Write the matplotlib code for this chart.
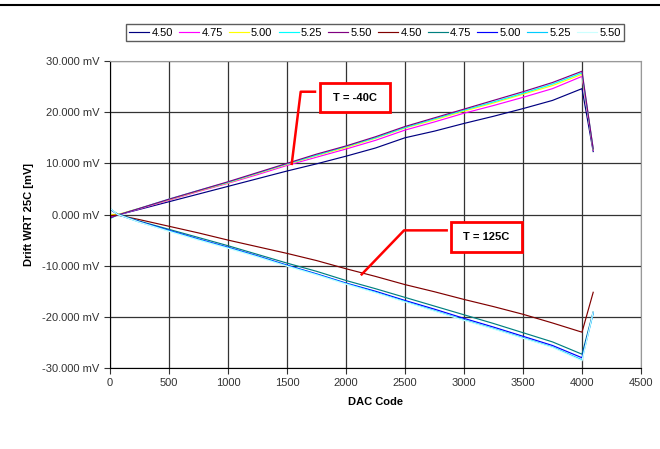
import matplotlib
matplotlib.use("Agg")
import matplotlib.pyplot as plt
from matplotlib.lines import Line2D
from matplotlib.patches import Rectangle

plt.rcParams['font.family'] = ['Liberation Sans', 'DejaVu Sans']

# data
dac_code = [0, 64, 250, 500, 750, 1000, 1250, 1500, 1750, 2000, 2250,
            2500, 2750, 3000, 3250, 3500, 3750, 4000, 4095]

# T = -40C
cold_450 = [-0.5, -0.1, 1.0, 2.5, 4.0, 5.5, 7.0, 8.5, 9.9, 11.4, 13.0,
            15.0, 16.3, 17.8, 19.2, 20.7, 22.3, 24.6, 12.3]
cold_475 = [-0.6, -0.1, 1.1, 2.8, 4.5, 6.1, 7.8, 9.6, 11.2, 12.8, 14.5,
            16.5, 18.1, 19.8, 21.3, 22.9, 24.6, 27.0, 12.6]
cold_500 = [0.0, 0.0, 1.2, 2.9, 4.6, 6.2, 8.0, 9.8, 11.5, 13.1, 14.9,
            16.9, 18.5, 20.2, 21.8, 23.5, 25.2, 27.4, 12.7]
cold_525 = [-0.8, -0.1, 1.2, 3.0, 4.7, 6.3, 8.1, 9.9, 11.6, 13.3, 15.0,
            17.0, 18.7, 20.4, 22.0, 23.7, 25.5, 27.7, 12.8]
cold_550 = [-0.7, -0.1, 1.2, 3.0, 4.7, 6.4, 8.2, 10.0, 11.8, 13.4, 15.2,
            17.2, 18.9, 20.6, 22.3, 24.0, 25.8, 28.0, 12.8]

# T = 125C
hot_450 = [-0.2, -0.1, -1.0, -2.3, -3.6, -5.0, -6.3, -7.6, -9.0, -10.6, -12.1,
           -13.7, -15.1, -16.6, -18.0, -19.5, -21.2, -23.0, -15.2]
hot_475 = [1.0, 0.1, -1.3, -2.9, -4.5, -6.1, -7.8, -9.5, -11.1, -12.9, -14.5,
           -16.2, -17.9, -19.6, -21.3, -23.1, -24.9, -27.3, -19.0]
hot_500 = [1.1, 0.0, -1.4, -3.1, -4.8, -6.4, -8.1, -9.9, -11.6, -13.4, -15.0,
           -16.8, -18.5, -20.3, -22.0, -23.8, -25.6, -28.0, -19.2]
hot_525 = [1.2, 0.0, -1.5, -3.2, -4.9, -6.5, -8.2, -10.0, -11.7, -13.5, -15.2,
           -17.0, -18.8, -20.6, -22.3, -24.1, -25.9, -28.4, -19.3]
hot_550 = [1.2, 0.0, -1.5, -3.3, -5.0, -6.6, -8.3, -10.1, -11.8, -13.6, -15.3,
           -17.1, -18.9, -20.7, -22.4, -24.2, -26.0, -28.6, -19.0]

series = [cold_450, cold_475, cold_500, cold_525, cold_550,
          hot_450, hot_475, hot_500, hot_525, hot_550]
series_labels = ["4.50", "4.75", "5.00", "5.25", "5.50",
                 "4.50", "4.75", "5.00", "5.25", "5.50"]
# warna default excel
colors = ["#000080", "#FF00FF", "#FFFF00", "#00FFFF", "#800080",
          "#800000", "#008080", "#0000FF", "#00CCFF", "#CCFFFF"]

y_ticks = [-30, -20, -10, 0, 10, 20, 30]
y_tick_labels = ["-30.000 mV", "-20.000 mV", "-10.000 mV", "0.000 mV",
                 "10.000 mV", "20.000 mV", "30.000 mV"]
x_ticks = [0, 500, 1000, 1500, 2000, 2500, 3000, 3500, 4000, 4500]

# MEMBUAT FIGURE
fig = plt.figure(figsize=(6.6, 4.49), dpi=100)
ax = fig.add_axes([0.1667, 0.1804, 0.8045, 0.6837])

for vals, lab, col in zip(series, series_labels, colors):
    ax.plot(dac_code, vals, color=col, lw=0.85, label=lab)

ax.set_xlim(0, 4500)
ax.set_ylim(-30, 30)
ax.set_xticks(x_ticks)
ax.set_yticks(y_ticks)
ax.set_yticklabels(y_tick_labels)
ax.tick_params(labelsize=8, colors="#333333", direction="out", length=4)
ax.grid(True, color="#333333", lw=0.9)
ax.set_axisbelow(True)
for s in ["top", "right"]:
    ax.spines[s].set_color("#999999")

ax.set_xlabel("DAC Code", fontsize=8, fontweight="bold", labelpad=6)
ax.set_ylabel("Drift WRT 25C [mV]", fontsize=8, fontweight="bold", labelpad=6)

# ANOTASI (kotak merah + garis penunjuk)
ax.plot([1540, 1616, 1737], [9.9, 24.0, 24.0], color="red", lw=1.8)
ax.add_patch(Rectangle((1780, 20.0), 593, 5.7, fc="white", ec="red", lw=2, zorder=5))
ax.text(2076, 22.85, "T = -40C", fontsize=8, fontweight="bold",
        ha="center", va="center", zorder=6)
ax.plot([2133, 2492, 2853], [-11.7, -3.1, -3.1], color="red", lw=1.8)
ax.add_patch(Rectangle((2887, -7.4), 607, 5.9, fc="white", ec="red", lw=2, zorder=5))
ax.text(3190, -4.45, "T = 125C", fontsize=8, fontweight="bold",
        ha="center", va="center", zorder=6)

# LEGEND
leg = fig.legend(loc="center", bbox_to_anchor=(375 / 660, 1 - 32.5 / 449),
                 ncol=10, fontsize=8, frameon=True, fancybox=False,
                 edgecolor="#333333", handlelength=1.8, handletextpad=0.2,
                 columnspacing=0.55, borderpad=0.3)
leg.get_frame().set_linewidth(1)

# garis atas
fig.add_artist(Line2D([0, 1], [1 - 5 / 449, 1 - 5 / 449], color="black",
                      lw=1.5, transform=fig.transFigure))

plt.savefig("out.png", dpi=100)
